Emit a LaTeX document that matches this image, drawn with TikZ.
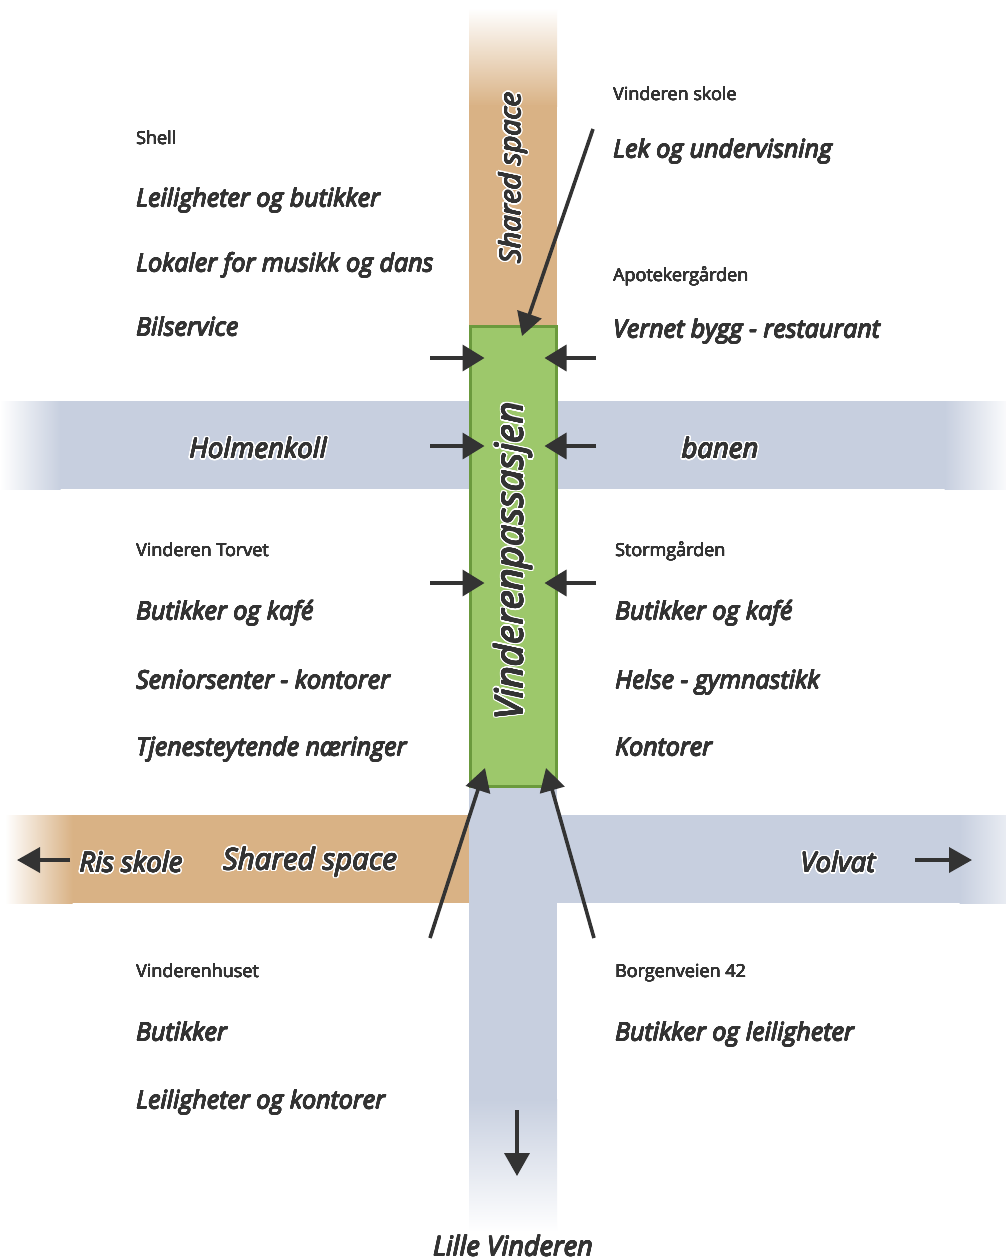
\documentclass[tikz,border=0pt]{standalone}
\usepackage{fontspec}
\setmainfont{Open Sans}
\newfontfamily\labfont{Open Sans}
\usepackage{contour}
\contourlength{1.6pt}
\contournumber{24}
\usetikzlibrary{arrows.meta,calc}
\definecolor{tanroad}{HTML}{D9B285}
\definecolor{road}{HTML}{C7CFDF}
\definecolor{grn}{HTML}{9DC86B}
\definecolor{grnd}{HTML}{6B9A3D}
\definecolor{ink}{HTML}{333333}
\newcommand\thk[1]{{\contourlength{0.45pt}\contournumber{12}\contour{ink}{#1}}}
\newcommand\thn[1]{{\contourlength{0.2pt}\contournumber{8}\contour{ink}{#1}}}
\newcommand\halo[1]{\makebox[0pt][l]{\color{white}\contourlength{2pt}\contournumber{24}\contour{white}{#1}}\thk{#1}}
\tikzset{
  small/.style={font=\fontsize{18}{21}\selectfont, text=ink, anchor=mid west, inner sep=0pt},
  lab/.style={font=\labfont\itshape\fontsize{25}{29}\selectfont, text=ink, anchor=mid west, inner sep=0pt},
  roadlab/.style={font=\labfont\itshape\fontsize{27.5}{31}\selectfont, text=ink, inner sep=0pt},
  arr/.style={draw=ink, line width=3.6pt, -{Triangle[length=23pt,width=25pt]}},
  sarr/.style={draw=ink, line width=3.6pt, -{Triangle[length=22pt,width=26pt]}},
}
\begin{document}
\begin{tikzpicture}[x=1pt,y=-1pt]
\useasboundingbox[fill=white] (0,0) rectangle (1006,1259);
% top vertical road (shared space)
\shade[top color=white, bottom color=tanroad] (469,8) rectangle (557,106);
\fill[tanroad] (469,105) rectangle (557,327);
% Holmenkollbanen band
\fill[road] (60,401) rectangle (945,489);
\shade[left color=white, right color=road] (0,401) rectangle (60.5,489);
\shade[left color=road, right color=white!90!road] (944.5,401) rectangle (1006,489);
% lower band left (tan)
\fill[tanroad] (72,815) rectangle (470,903);
\shade[left color=white, right color=tanroad] (5,815) rectangle (72.5,903);
% lower band right (blue)
\fill[road] (557,815) rectangle (960,903);
\shade[left color=road, right color=white!60!road] (959.5,815) rectangle (1006,903);
% bottom vertical road
\fill[road] (469,785) rectangle (557,1100);
\shade[top color=road, bottom color=white] (469,1099.5) rectangle (557,1232);
% green passage
\node[draw=grnd, fill=grn, line width=3pt, minimum width=86pt, minimum height=460pt, inner sep=0pt] (box) at (513,556) {};
\node[roadlab, font=\labfont\itshape\fontsize{38.5}{42}\selectfont, rotate=90] (vp) at (514,561) {\halo{Vinderenpassasjen}};
\node[roadlab, font=\labfont\itshape\fontsize{29}{32}\selectfont, rotate=90] (ss1) at (514,178) {\halo{Shared space}};
% road labels
\node[roadlab] (hk) at (258,449) {\halo{Holmenkoll}};
\node[roadlab] (bn) at (720,449) {\halo{banen}};
\node[roadlab] (ris) at (131,863) {\halo{Ris skole}};
\node[roadlab, font=\labfont\itshape\fontsize{29.5}{32}\selectfont] (ss2) at (310,863) {\halo{Shared space}};
\node[roadlab] (vol) at (838,863) {\halo{Volvat}};
\node[roadlab, font=\labfont\itshape\fontsize{27}{30}\selectfont] (lv) at (513,1246) {\thk{Lille Vinderen}};
% left column top
\node[small] (shell) at (136,142) {\thn{Shell}};
\node[lab] (l1) at (136,204) {\thk{Leiligheter og butikker}};
\node[lab] (l2) at (136,269) {\thk{Lokaler for musikk og dans}};
\node[lab] (l3) at (136,333) {\thk{Bilservice}};
% right column top
\node[small] (vs) at (613,98) {\thn{Vinderen skole}};
\node[lab] (r1) at (613,155) {\thk{Lek og undervisning}};
\node[small] (apo) at (613,279) {\thn{Apotekergården}};
\node[lab] (r2) at (613,335) {\thk{Vernet bygg - restaurant}};
% left middle
\node[small] (vt) at (136,554) {\thn{Vinderen Torvet}};
\node[lab] (l4) at (136,617) {\thk{Butikker og kafé}};
\node[lab] (l5) at (136,686) {\thk{Seniorsenter - kontorer}};
\node[lab] (l6) at (136,753) {\thk{Tjenesteytende næringer}};
% right middle
\node[small] (sg) at (615,554) {\thn{Stormgården}};
\node[lab] (r3) at (615,617) {\thk{Butikker og kafé}};
\node[lab] (r4) at (615,686) {\thk{Helse - gymnastikk}};
\node[lab] (r5) at (615,753) {\thk{Kontorer}};
% bottom
\node[small] (vh) at (136,975) {\thn{Vinderenhuset}};
\node[lab] (l7) at (136,1038) {\thk{Butikker}};
\node[lab] (l8) at (136,1106) {\thk{Leiligheter og kontorer}};
\node[small] (bv) at (615,975) {\thn{Borgenveien 42}};
\node[lab] (r6) at (615,1038) {\thk{Butikker og leiligheter}};
% arrow coordinates
\coordinate (a1) at (430,358);
\coordinate (a2) at (430,446);
\coordinate (a3) at (430,583);
\coordinate (b1) at (596,358);
\coordinate (b2) at (596,446);
\coordinate (b3) at (596,583);
\coordinate (t1) at (593,129);
\coordinate (t1e) at (522,336);
\coordinate (u1) at (430,938);
\coordinate (u1e) at (485,768);
\coordinate (u2) at (594,938);
\coordinate (u2e) at (546,768);
\coordinate (rs) at (70,860);
\coordinate (rse) at (17,860);
\coordinate (vo) at (915,860);
\coordinate (voe) at (972,860);
\coordinate (dn) at (517,1110);
\coordinate (dne) at (517,1176);
% arrows
\foreach \p in {a1,a2,a3} \draw[sarr] (\p) -- ($(box.west |- \p)+(16,0)$);
\foreach \p in {b1,b2,b3} \draw[sarr] (\p) -- ($(box.east |- \p)+(-13,0)$);
\draw[arr] (t1) -- (t1e);
\draw[arr] (u1) -- (u1e);
\draw[arr] (u2) -- (u2e);
\draw[arr] (rs) -- (rse);
\draw[arr] (vo) -- (voe);
\draw[arr] (dn) -- (dne);
\end{tikzpicture}
\end{document}
